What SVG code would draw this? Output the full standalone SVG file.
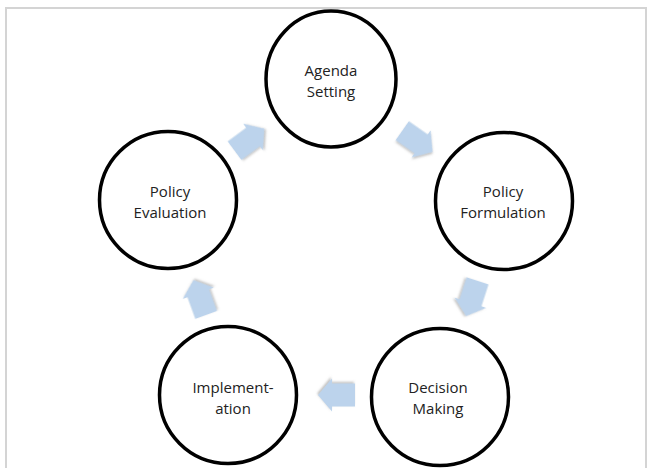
<svg xmlns="http://www.w3.org/2000/svg" width="653" height="468" viewBox="0 0 653 468">
  <style>
    .node { fill: #ffffff; stroke: #000000; stroke-width: 3.5; }
    .label { font-family: "Open Sans", "Noto Sans", sans-serif; font-size: 15px; fill: #222222; text-anchor: middle; }
    .arrow { fill: #bcd3ec; filter: url(#shadow); }
  </style>
  <defs>
    <filter id="shadow" x="-30%" y="-30%" width="160%" height="160%">
      <feDropShadow dx="1" dy="1.5" stdDeviation="0.8" flood-color="#808080" flood-opacity="0.5"/>
    </filter>
    <path id="blockArrow" d="M19,0 L5,-16.5 L5,-11.5 L-18,-11.5 L-18,11.5 L5,11.5 L5,16.5 Z"/>
  </defs>
  <rect x="0" y="0" width="653" height="468" fill="#ffffff"/>
  <rect x="6" y="8" width="640" height="470" fill="none" stroke="#d4d4d4" stroke-width="2"/>

  <g id="connectors">
    <use href="#blockArrow" class="arrow" transform="translate(417,141) rotate(35)"/>
    <use href="#blockArrow" class="arrow" transform="translate(472,298) rotate(108)"/>
    <use href="#blockArrow" class="arrow" transform="translate(337,395) rotate(180)"/>
    <use href="#blockArrow" class="arrow" transform="translate(200,298) rotate(250)"/>
    <use href="#blockArrow" class="arrow" transform="translate(249,140) rotate(-36.5)"/>
  </g>

  <g id="agenda-setting">
    <ellipse class="node" cx="331" cy="79" rx="65" ry="68"/>
    <text class="label" x="331" y="76">Agenda</text>
    <text class="label" x="331" y="97">Setting</text>
  </g>
  <g id="policy-formulation">
    <circle class="node" cx="504" cy="201" r="68.5"/>
    <text class="label" x="503" y="197">Policy</text>
    <text class="label" x="503" y="218">Formulation</text>
  </g>
  <g id="decision-making">
    <circle class="node" cx="440" cy="397" r="68.5"/>
    <text class="label" x="438" y="393">Decision</text>
    <text class="label" x="438" y="414">Making</text>
  </g>
  <g id="implementation">
    <circle class="node" cx="228" cy="395" r="68.5"/>
    <text class="label" x="233" y="393">Implement-</text>
    <text class="label" x="233" y="414">ation</text>
  </g>
  <g id="policy-evaluation">
    <circle class="node" cx="168" cy="200" r="68.5"/>
    <text class="label" x="170" y="197">Policy</text>
    <text class="label" x="170" y="218">Evaluation</text>
  </g>
</svg>
